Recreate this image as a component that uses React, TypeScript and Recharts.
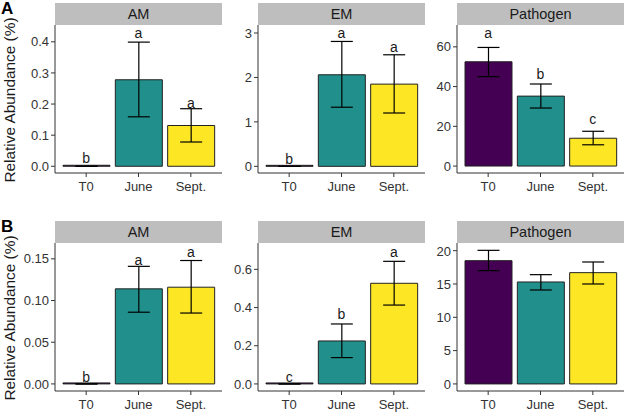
import React from "react";
import {
  ComposedChart,
  Bar,
  Line,
  XAxis,
  YAxis,
  ErrorBar,
  Cell,
  LabelList,
} from "recharts";

const months = ["T0", "June", "Sept."];
const COLORS = ["#440154", "#21908C", "#FDE725"];

// row A
const amA_mean = [0, 0.278, 0.131];
const amA_low = [0, 0.159, 0.078];
const amA_high = [0, 0.399, 0.185];
const amA_letters = ["b", "a", "a"];
const amA_letterPos = [0.026, 0.429, 0.202];

const emA_mean = [0, 2.06, 1.85];
const emA_low = [0, 1.33, 1.2];
const emA_high = [0, 2.81, 2.51];
const emA_letters = ["b", "a", "a"];
const emA_letterPos = [0.17, 3.01, 2.68];

const pathA_mean = [52.5, 35.2, 14.0];
const pathA_low = [45.0, 29.2, 10.7];
const pathA_high = [59.7, 41.3, 17.5];
const pathA_letters = ["a", "b", "c"];
const pathA_letterPos = [67, 46.5, 23.5];

// row B
const amB_mean = [0, 0.114, 0.116];
const amB_low = [0, 0.086, 0.085];
const amB_high = [0, 0.141, 0.148];
const amB_letters = ["b", "a", "a"];
const amB_letterPos = [0.0084, 0.149, 0.158];

const emB_mean = [0, 0.225, 0.527];
const emB_low = [0, 0.138, 0.413];
const emB_high = [0, 0.314, 0.642];
const emB_letters = ["c", "b", "a"];
const emB_letterPos = [0.037, 0.366, 0.692];

const pathB_mean = [18.5, 15.3, 16.7];
const pathB_low = [17.0, 14.1, 15.0];
const pathB_high = [20.05, 16.4, 18.3];

const FONT = "'Liberation Sans', Arial, Helvetica, sans-serif";
const PANEL_W = 167;
const PLOT_H = 148;
const STRIP_H = 22;
const AXIS_W = 45;
const AXIS_H = 28;

function makeRows(
  mean: number[],
  low: number[],
  high: number[],
  letters?: string[],
  letterPos?: number[]
) {
  return months.map((m, i) => ({
    month: m,
    mean: mean[i],
    err: [mean[i] - low[i], high[i] - mean[i]],
    letter: letters ? letters[i] : "",
    letterPos: letterPos ? letterPos[i] : null,
  }));
}

type PanelProps = {
  title: string;
  left: number;
  top: number;
  rows: any[];
  domain: [number, number];
  ticks: number[];
  digits: number;
};

const Panel = ({ title, left, top, rows, domain, ticks, digits }: PanelProps) => {
  return (
    <div style={{ position: "absolute", left: left - AXIS_W, top }}>
      <div
        style={{
          position: "absolute",
          left: AXIS_W,
          top: 0,
          width: PANEL_W,
          height: STRIP_H,
          background: "#BEBEBE",
          color: "#1A1A1A",
          fontSize: 14.5,
          lineHeight: `${STRIP_H}px`,
          textAlign: "center",
        }}
      >
        {title}
      </div>
      <div style={{ position: "absolute", left: 0, top: STRIP_H }}>
        <ComposedChart
          width={AXIS_W + PANEL_W}
          height={PLOT_H + AXIS_H}
          data={rows}
          margin={{ top: 0, right: 0, bottom: 0, left: 0 }}
        >
          <XAxis
            dataKey="month"
            padding={{ left: 5, right: 5 }}
            height={AXIS_H}
            stroke="#333"
            tickSize={4}
            tickMargin={5}
            tick={{ fill: "#333", fontSize: 13, fontFamily: FONT }}
          />
          <YAxis
            type="number"
            domain={domain}
            ticks={ticks}
            allowDataOverflow
            width={AXIS_W}
            stroke="#333"
            tickSize={4}
            tickFormatter={(v: number) => v.toFixed(digits)}
            tick={{ fill: "#333", fontSize: 13, fontFamily: FONT }}
          />
          <Bar
            dataKey="mean"
            barSize={47}
            stroke="#222"
            strokeWidth={1}
            minPointSize={1}
            isAnimationActive={false}
          >
            {rows.map((r, i) => (
              <Cell key={`c-${i}`} fill={COLORS[i]} />
            ))}
            <ErrorBar dataKey="err" width={11} stroke="#000" strokeWidth={1.2} />
          </Bar>
          <Line
            dataKey="letterPos"
            stroke="none"
            dot={false}
            activeDot={false}
            isAnimationActive={false}
          >
            <LabelList
              dataKey="letter"
              position="center"
              fill="#1A1A1A"
              fontSize={14}
              fontFamily={FONT}
            />
          </Line>
        </ComposedChart>
      </div>
    </div>
  );
};

const YTitle = ({ cy }: { cy: number }) => (
  <div
    style={{
      position: "absolute",
      left: 10,
      top: cy,
      transform: "translate(-50%, -50%) rotate(-90deg)",
      whiteSpace: "nowrap",
      fontSize: 15.4,
      color: "#1A1A1A",
    }}
  >
    Relative Abundance (%)
  </div>
);

const App = () => {
  const topA = 3;
  const topB = 221;
  const xs = [55, 258, 457];
  return (
    <div
      style={{
        position: "absolute",
        left: 0,
        top: 0,
        width: 625,
        height: 412,
        background: "#fff",
        fontFamily: FONT,
        overflow: "hidden",
      }}
    >
      <div style={{ position: "absolute", left: 1, top: 0, fontSize: 17, fontWeight: "bold", lineHeight: 1 }}>A</div>
      <div style={{ position: "absolute", left: 1, top: topB - 3, fontSize: 17, fontWeight: "bold", lineHeight: 1 }}>B</div>
      <YTitle cy={topA + STRIP_H + PLOT_H / 2 + 1} />
      <YTitle cy={topB + STRIP_H + PLOT_H / 2 + 1} />

      <Panel title="AM" left={xs[0]} top={topA} rows={makeRows(amA_mean, amA_low, amA_high, amA_letters, amA_letterPos)} domain={[-0.0216, 0.454]} ticks={[0, 0.1, 0.2, 0.3, 0.4]} digits={1} />
      <Panel title="EM" left={xs[1]} top={topA} rows={makeRows(emA_mean, emA_low, emA_high, emA_letters, emA_letterPos)} domain={[-0.15, 3.18]} ticks={[0, 1, 2, 3]} digits={0} />
      <Panel title="Pathogen" left={xs[2]} top={topA} rows={makeRows(pathA_mean, pathA_low, pathA_high, pathA_letters, pathA_letterPos)} domain={[-3.5, 71]} ticks={[0, 20, 40, 60]} digits={0} />

      <Panel title="AM" left={xs[0]} top={topB} rows={makeRows(amB_mean, amB_low, amB_high, amB_letters, amB_letterPos)} domain={[-0.0085, 0.169]} ticks={[0, 0.05, 0.1, 0.15]} digits={2} />
      <Panel title="EM" left={xs[1]} top={topB} rows={makeRows(emB_mean, emB_low, emB_high, emB_letters, emB_letterPos)} domain={[-0.037, 0.738]} ticks={[0, 0.2, 0.4, 0.6]} digits={1} />
      <Panel title="Pathogen" left={xs[2]} top={topB} rows={makeRows(pathB_mean, pathB_low, pathB_high)} domain={[-1.06, 21.15]} ticks={[0, 5, 10, 15, 20]} digits={0} />
    </div>
  );
};

export default App;
